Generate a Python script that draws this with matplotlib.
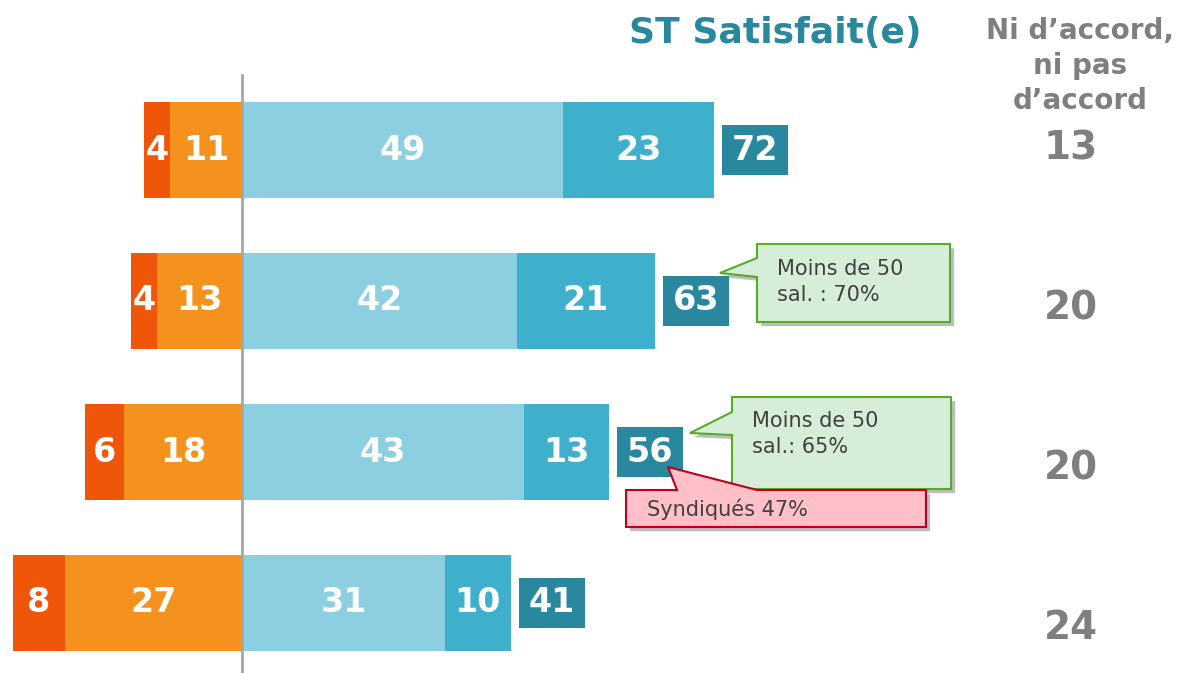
import numpy as np
import matplotlib
matplotlib.use("Agg")
import matplotlib.pyplot as plt
from matplotlib.patches import Polygon
from matplotlib.transforms import Affine2D
import matplotlib.patheffects as pe

# data (rows top to bottom)
tres_insat = [4, 4, 6, 8]
plutot_insat = [11, 13, 18, 27]
plutot_sat = [49, 42, 43, 31]
tres_sat = [23, 21, 13, 10]
neutre = [13, 20, 20, 24]

c_tres_insat = "#F0560A"
c_plutot_insat = "#F5921E"
c_plutot_sat = "#8BCFE0"
c_tres_sat = "#3FB0CC"
c_total = "#2A889E"
c_gray = "#7F7F7F"

W, H = 1183, 673
fig = plt.figure(figsize=(W / 100, H / 100), dpi=100)
ax = fig.add_axes([0, 0, 1, 1])
ax.axis("off")

# pixel helper (x right, y down)
px = Affine2D().scale(1 / W, -1 / H).translate(0, 1) + fig.transFigure

scale = 6.55  # pixels per point
x0 = 242
ax.set_xlim(-x0 / scale, (W - x0) / scale)
ax.set_ylim((H - 150) / 151, -150 / 151)

y = np.arange(len(plutot_sat))
h = 0.63
ti = np.array(tres_insat)
pi = np.array(plutot_insat)
ps = np.array(plutot_sat)
ts = np.array(tres_sat)
total = ps + ts

ax.barh(y, -pi, height=h, color=c_plutot_insat)
ax.barh(y, -ti, left=-pi, height=h, color=c_tres_insat)
ax.barh(y, ps, height=h, color=c_plutot_sat)
ax.barh(y, ts, left=ps, height=h, color=c_tres_sat)

# total boxes
gap = 8 / scale
bw = 66 / scale
ax.barh(y, bw, left=total + gap, height=50 / 151, color=c_total)

lab = dict(color="white", fontsize=24, fontweight="bold", ha="center", va="center")
for i in y:
    ax.text(-pi[i] - ti[i] / 2, i, str(ti[i]), **lab)
    ax.text(-pi[i] / 2, i, str(pi[i]), **lab)
    ax.text(ps[i] / 2, i, str(ps[i]), **lab)
    ax.text(ps[i] + ts[i] / 2, i, str(ts[i]), **lab)
    ax.text(total[i] + gap + bw / 2, i, str(total[i]), **lab)

# neutral column
neutre_y = [148, 308, 468, 628]
for v, yy in zip(neutre, neutre_y):
    ax.text(1071, yy, str(v), transform=px, color=c_gray, fontsize=28,
            fontweight="bold", ha="center", va="center")

# axis line
ax.plot([0, 0], [(75 - 150) / 151, (H - 150) / 151], color="#A6A6A6", lw=2)

# headers
fig.text(775, 33, "ST Satisfait(e)", transform=px, color=c_total, fontsize=26,
         fontweight="bold", ha="center", va="center")
fig.text(1080, 66, "Ni d\u2019accord,\nni pas\nd\u2019accord", transform=px,
         color=c_gray, fontsize=20, fontweight="bold", ha="center",
         va="center", multialignment="center", linespacing=1.32)


def callout(pts, fc, ec, tx, ty, text):
    poly = Polygon(pts, closed=True, facecolor=fc, edgecolor=ec, lw=1.5,
                   transform=px, zorder=5)
    poly.set_path_effects([pe.SimplePatchShadow(offset=(3, -3), alpha=0.35),
                           pe.Normal()])
    fig.add_artist(poly)
    fig.text(tx, ty, text, transform=px, color="#404040", fontsize=15,
             ha="left", va="center", linespacing=1.4, zorder=6)


green_fc, green_ec = "#D6EED8", "#5AAA2A"
pink_fc, pink_ec = "#FFC0C8", "#C0001A"

callout([(757, 244), (950, 244), (950, 322), (757, 322), (757, 277),
         (720, 273), (757, 258)], green_fc, green_ec, 777, 282,
        "Moins de 50\nsal. : 70%")
callout([(732, 397), (951, 397), (951, 489), (732, 489), (732, 435),
         (690, 433), (732, 412)], green_fc, green_ec, 752, 434,
        "Moins de 50\nsal.: 65%")
callout([(626, 490), (677, 490), (668, 467), (757, 490), (926, 490),
         (926, 527), (626, 527)], pink_fc, pink_ec, 647, 509,
        "Syndiqués 47%")

fig.savefig("out.png", dpi=100)
